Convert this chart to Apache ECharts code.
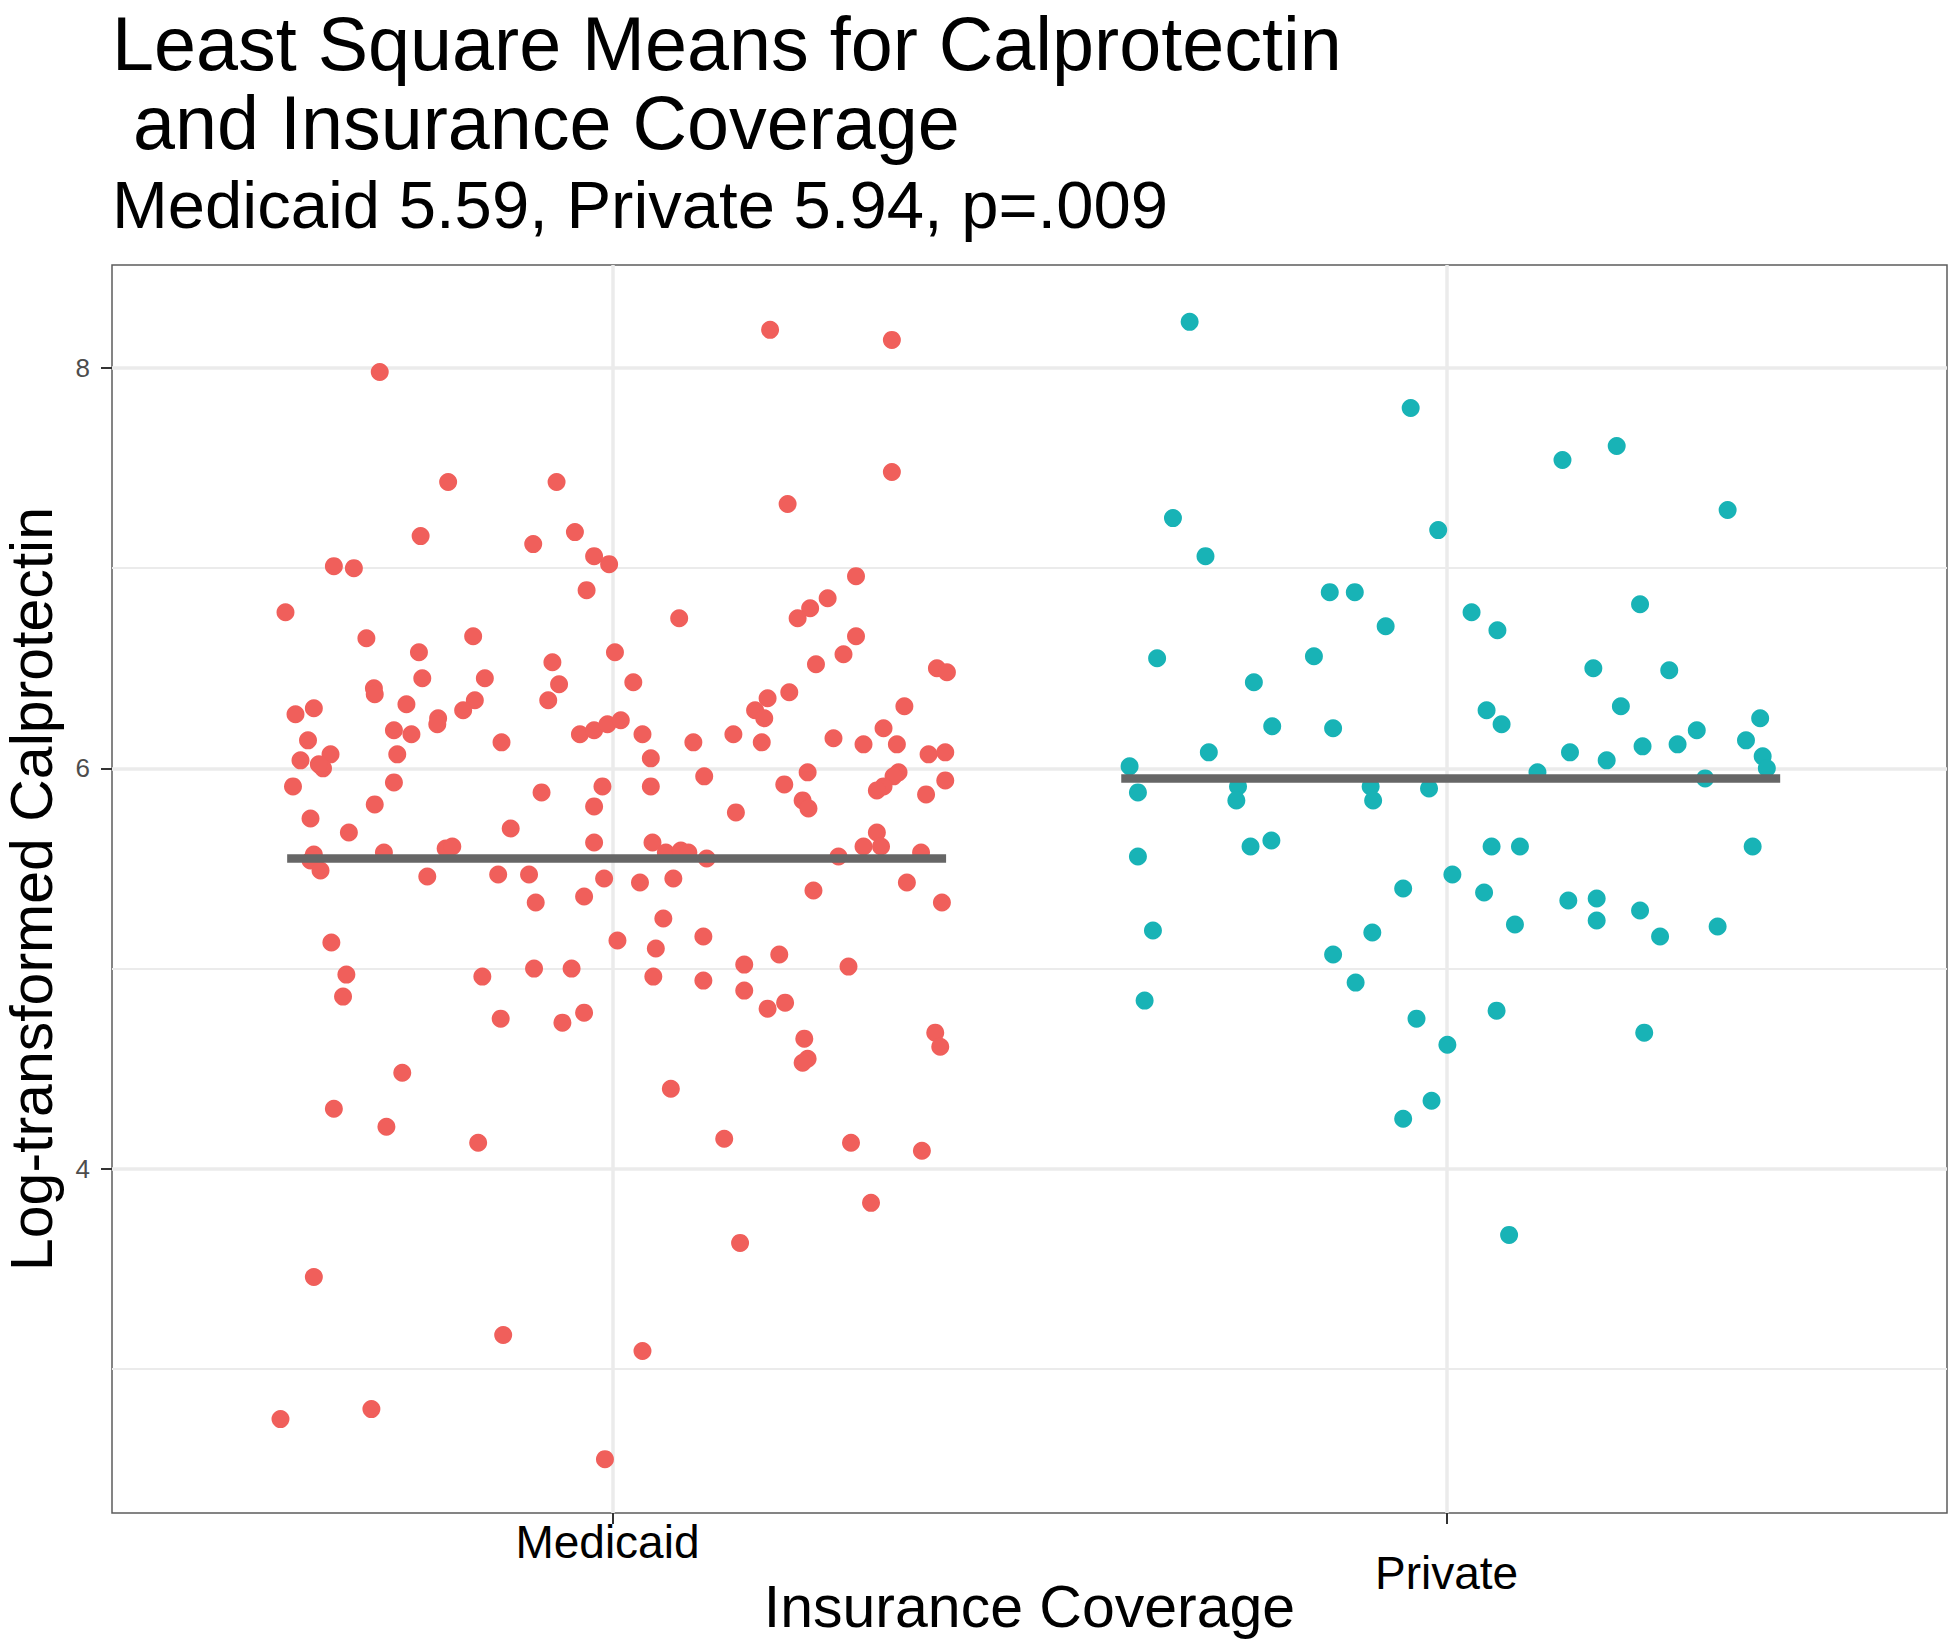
<!DOCTYPE html>
<html>
<head>
<meta charset="utf-8">
<script src="https://cdn.jsdelivr.net/npm/echarts@6/dist/echarts.min.js"></script>
<style>
html, body { margin: 0; padding: 0; background: #fff; }
#chart { width: 1950px; height: 1640px; }
</style>
</head>
<body>
<div id="chart"></div>
<script>
// ---------- data ----------
const titleLines = ['Least Square Means for Calprotectin', ' and Insurance Coverage'];
const subtitleText = 'Medicaid 5.59, Private 5.94, p=.009';
const xTitle = 'Insurance Coverage';
const yTitle = 'Log-transformed Calprotectin';

const categories = ['Medicaid', 'Private'];
const categoryPositions = [1, 2];
const xLimits = [0.4, 2.6];
const yLimits = [2.281, 8.514];
const yMajorTicks = [4, 6, 8];
const yMinorTicks = [3, 5, 7];

// jittered x position and log-transformed calprotectin, Medicaid group
const medicaidX = [0.721,1.189,1.335,1.335,0.803,0.933,1.210,0.770,0.955,0.905,
0.978,0.996,0.666,0.690,0.969,1.292,1.258,1.237,1.222,0.608,
1.080,0.705,0.833,1.292,0.768,1.003,1.277,0.928,1.244,0.772,
1.389,1.401,0.847,1.025,0.936,0.714,0.715,1.212,0.620,0.642,
0.753,0.835,0.923,0.791,0.790,0.821,1.186,1.171,1.182,1.350,
0.738,0.759,0.961,0.978,0.994,1.010,1.036,0.635,0.867,1.097,
1.145,1.179,1.265,1.301,1.325,1.341,0.662,0.626,0.742,1.046,
1.379,1.399,0.653,0.648,1.343,1.337,1.110,1.234,0.617,0.738,
1.206,0.988,1.325,1.317,1.399,1.046,0.915,1.376,1.228,1.235,
0.715,0.978,1.148,0.638,0.878,0.684,1.317,1.301,1.322,0.726,
0.800,0.808,0.978,1.048,1.064,1.082,1.091,1.113,1.271,1.370,
0.642,0.638,0.650,0.778,0.863,0.900,0.990,1.073,1.033,1.353,
0.908,0.966,1.241,1.395,1.061,0.663,1.109,1.006,1.052,1.200,
1.158,1.283,0.951,0.906,0.681,0.844,1.049,1.109,1.158,0.677,
1.207,1.186,0.966,0.866,0.940,1.387,1.230,1.393,1.234,1.228,
0.748,1.070,0.666,0.729,0.839,1.134,1.286,1.371,1.310,1.153,
0.642,0.869,1.036,0.602,0.711,0.991];
const medicaidY = [7.98,8.19,8.14,7.48,7.43,7.43,7.32,7.16,7.18,7.12,
7.06,7.02,7.01,7.00,6.89,6.96,6.85,6.80,6.75,6.78,
6.75,6.65,6.66,6.66,6.58,6.58,6.57,6.53,6.52,6.45,
6.50,6.48,6.45,6.43,6.42,6.40,6.37,6.38,6.27,6.30,
6.32,6.34,6.34,6.25,6.22,6.29,6.35,6.29,6.25,6.31,
6.19,6.17,6.17,6.19,6.22,6.24,6.17,6.14,6.13,6.13,
6.17,6.13,6.15,6.12,6.20,6.12,6.07,6.04,6.07,6.05,
6.07,6.08,6.00,6.02,5.98,5.96,5.96,5.98,5.91,5.93,
5.92,5.91,5.91,5.89,5.94,5.91,5.88,5.87,5.84,5.80,
5.82,5.81,5.78,5.75,5.70,5.68,5.68,5.61,5.61,5.58,
5.60,5.61,5.63,5.63,5.58,5.59,5.58,5.55,5.56,5.58,
5.57,5.54,5.49,5.46,5.47,5.47,5.45,5.45,5.43,5.43,
5.33,5.36,5.39,5.33,5.25,5.13,5.16,5.14,5.10,5.07,
5.02,5.01,5.00,5.00,4.97,4.96,4.96,4.94,4.89,4.86,
4.83,4.80,4.78,4.75,4.73,4.68,4.65,4.61,4.55,4.53,
4.48,4.40,4.30,4.21,4.13,4.15,4.13,4.09,3.83,3.63,
3.46,3.17,3.09,2.75,2.80,2.55];

// Private group
const privateX = [1.692,1.957,2.139,2.204,2.337,1.672,1.990,1.711,1.860,1.890,
1.927,2.030,2.232,2.061,1.653,1.841,2.176,2.267,1.769,2.048,
2.066,2.209,2.376,1.791,1.864,1.715,2.148,2.192,2.235,2.277,
2.300,2.359,2.379,2.384,1.620,2.109,2.310,1.630,1.750,1.748,
1.909,1.912,1.979,1.765,1.790,1.630,2.054,2.088,2.367,1.948,
2.007,2.045,2.146,2.180,2.180,2.232,1.648,1.911,2.082,2.256,
2.325,1.864,1.638,1.891,1.964,2.001,2.060,2.237,1.982,1.948,
2.075];
const privateY = [8.23,7.80,7.54,7.61,7.29,7.25,7.19,7.06,6.88,6.88,
6.71,6.78,6.82,6.69,6.55,6.56,6.50,6.49,6.43,6.29,
6.22,6.31,6.25,6.21,6.20,6.08,6.08,6.04,6.11,6.12,
6.19,6.14,6.06,6.00,6.01,5.98,5.95,5.88,5.91,5.84,
5.91,5.84,5.90,5.61,5.64,5.56,5.61,5.61,5.61,5.40,
5.47,5.38,5.34,5.35,5.24,5.29,5.19,5.18,5.22,5.16,
5.21,5.07,4.84,4.93,4.75,4.62,4.79,4.68,4.34,4.25,
3.67];

// least square means as drawn, and the extent of their segments around each category
const lsMeans = [5.55, 5.95];
const meanSegment = [-0.39, 0.40];

// ---------- style ----------
const FONT = '"Liberation Sans", Arial, Helvetica, sans-serif';
const groupColors = ['#F05F5B', '#18B3B6'];
const GRID_COLOR = '#EBEBEB';

function pairs(xs, ys) { return xs.map((x, i) => [x, ys[i]]); }

const gridLines = []
  .concat(yMinorTicks.map(v => ({ yAxis: v, lineStyle: { width: 2 } })))
  .concat(yMajorTicks.map(v => ({ yAxis: v, lineStyle: { width: 3.5 } })))
  .concat(categoryPositions.map(v => ({ xAxis: v, lineStyle: { width: 3.5 } })));

const meanSeries = categoryPositions.map((c, i) => ({
  type: 'line',
  name: categories[i] + ' LS mean',
  data: [[c + meanSegment[0], lsMeans[i]], [c + meanSegment[1], lsMeans[i]]],
  symbol: 'none',
  silent: true,
  z: 5,
  lineStyle: { color: '#666666', width: 8.5, cap: 'butt' }
}));

const chart = echarts.init(document.getElementById('chart'), null, { renderer: 'svg', width: 1950, height: 1640 });

const option = {
  animation: false,
  backgroundColor: '#ffffff',
  title: {
    text: '{a|' + titleLines[0] + '}\n{b|' + titleLines[1] + '}',
    subtext: subtitleText,
    left: 112,
    top: 6,
    padding: 0,
    itemGap: 8,
    textStyle: {
      fontFamily: FONT, fontSize: 75.5, fontWeight: 'normal', color: '#000',
      rich: {
        a: { fontFamily: FONT, fontSize: 75.5, lineHeight: 76, color: '#000' },
        b: { fontFamily: FONT, fontSize: 75.5, lineHeight: 82, color: '#000' }
      }
    },
    subtextStyle: { fontFamily: FONT, fontSize: 67, lineHeight: 70, color: '#000' }
  },
  grid: {
    left: 112, right: 3, top: 265, bottom: 127,
    containLabel: false,
    outerBoundsMode: 'none',
    show: true,
    backgroundColor: '#ffffff',
    borderColor: '#5c5c5c',
    borderWidth: 1.5
  },
  xAxis: {
    type: 'value',
    min: xLimits[0], max: xLimits[1],
    axisLine: { show: false },
    splitLine: { show: false },
    axisTick: { show: true, customValues: categoryPositions, length: 11, lineStyle: { color: '#333', width: 2 } },
    axisLabel: {
      customValues: categoryPositions,
      margin: 6,
      fontFamily: FONT, fontSize: 46, lineHeight: 46, color: '#000',
      formatter: function (v) {
        const i = categoryPositions.indexOf(Math.round(v));
        return i === 0 ? '{m|' + categories[0] + '}' : '{p|' + categories[1] + '}';
      },
      rich: {
        m: { fontFamily: FONT, fontSize: 46, lineHeight: 46, color: '#000', padding: [0, 10, 0, 0] },
        p: { fontFamily: FONT, fontSize: 46, lineHeight: 108, color: '#000' }
      }
    },
    name: xTitle,
    nameLocation: 'middle',
    nameGap: 64,
    nameMoveOverlap: false,
    nameTextStyle: { fontFamily: FONT, fontSize: 59, color: '#000' }
  },
  yAxis: {
    type: 'value',
    min: yLimits[0], max: yLimits[1],
    axisLine: { show: false },
    splitLine: { show: false },
    axisTick: { show: true, customValues: yMajorTicks, length: 11, lineStyle: { color: '#333', width: 2 } },
    axisLabel: { customValues: yMajorTicks, margin: 22, fontFamily: FONT, fontSize: 26, color: '#4d4d4d' },
    name: yTitle,
    nameLocation: 'middle',
    nameRotate: 90,
    nameGap: 51,
    nameMoveOverlap: false,
    nameTextStyle: { fontFamily: FONT, fontSize: 59, color: '#000' }
  },
  series: [
    {
      type: 'scatter',
      name: categories[0],
      data: pairs(medicaidX, medicaidY),
      symbolSize: 18,
      itemStyle: { color: groupColors[0], opacity: 1 },
      z: 3,
      markLine: {
        silent: true,
        z: 1,
        symbol: 'none',
        label: { show: false },
        lineStyle: { color: GRID_COLOR, type: 'solid' },
        data: gridLines
      }
    },
    {
      type: 'scatter',
      name: categories[1],
      data: pairs(privateX, privateY),
      symbolSize: 18,
      itemStyle: { color: groupColors[1], opacity: 1 },
      z: 3
    }
  ].concat(meanSeries)
};

chart.setOption(option);
</script>
</body>
</html>
